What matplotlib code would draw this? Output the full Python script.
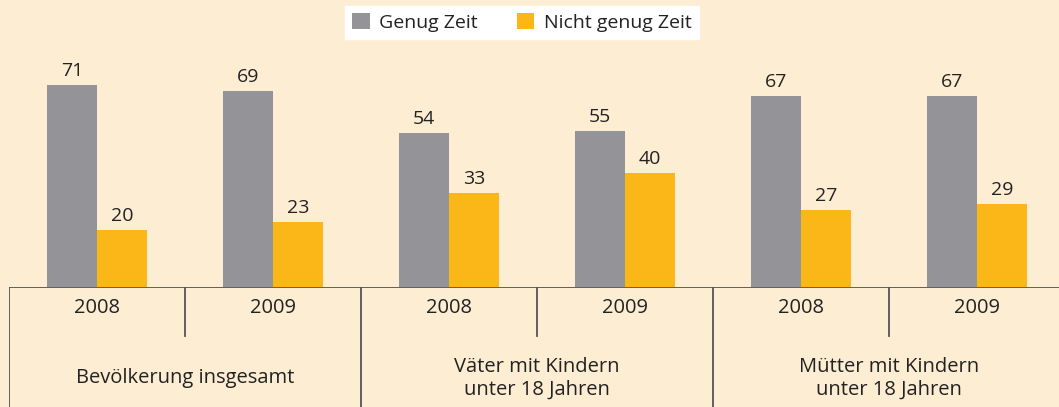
import matplotlib
matplotlib.use('Agg')
from matplotlib import pyplot as plt
import numpy as np

# data
years = ['2008', '2009', '2008', '2009', '2008', '2009']
groups = ['Bevölkerung insgesamt', 'Väter mit Kindern\nunter 18 Jahren', 'Mütter mit Kindern\nunter 18 Jahren']
genug = [71, 69, 54, 55, 67, 67]
nichtGenug = [20, 23, 33, 40, 27, 29]
seriesNames = ['Genug Zeit', 'Nicht genug Zeit']

BG = '#FDEED3'
GRAY = '#939398'
YELLOW = '#FBB718'
LINE = '#555555'
TEXT = '#222222'

plt.rcParams['font.family'] = ['Open Sans', 'DejaVu Sans']

W, H = 1059, 407
fig = plt.figure(figsize=(W / 100, H / 100), dpi=100, facecolor=BG)

cellPx = 176.0
left = 9
base = 287
xmax = (W - left) / cellPx

# bar area
ax = fig.add_axes([left / W, (H - base) / H, (W - left) / W, base / H])
ax.set_facecolor(BG)
ax.set_xlim(0, xmax)
ax.set_ylim(0, base / 2.845)
x = np.arange(len(years)) + 0.5
bw = 50 / cellPx
b1 = ax.bar(x - bw / 2, genug, bw, color=GRAY, label=seriesNames[0])
b2 = ax.bar(x + bw / 2, nichtGenug, bw, color=YELLOW, label=seriesNames[1])
for bars in (b1, b2):
    for rect in bars:
        ax.annotate(str(int(rect.get_height())),
                    (rect.get_x() + rect.get_width() / 2, rect.get_height()),
                    xytext=(0, 5), textcoords='offset pixels',
                    ha='center', va='bottom', fontsize=14, color=TEXT)
ax.axis('off')

# table area below the bars
tab = fig.add_axes([left / W, 0, (W - left) / W, (H - base) / H])
tab.set_facecolor(BG)
tab.set_xlim(0, xmax)
tab.set_ylim(H - base, 0)
tab.axis('off')
tab.axhline(0, color=LINE, lw=1.3)
tab.plot([0, 0], [0, H - base], color=LINE, lw=1.3)
for i, yr in enumerate(years):
    tab.text(i + 0.5, 21, yr, ha='center', va='center', fontsize=14.5, color=TEXT)
    if i % 2 == 1:
        tab.plot([i, i], [0, 49], color=LINE, lw=1.3)
for j, g in enumerate(groups):
    cx = 2 * j + 1
    tab.text(cx, 91, g, ha='center', va='center', fontsize=14.5, color=TEXT, linespacing=1.2)
    if j > 0:
        tab.plot([2 * j, 2 * j], [0, H - base], color=LINE, lw=1.3)

leg = fig.legend(handles=[b1, b2], labels=seriesNames, loc='center',
                 bbox_to_anchor=(522 / W, 1 - 22.5 / H), ncol=2, frameon=True,
                 fancybox=False, fontsize=14, handlelength=0.9, handleheight=0.9,
                 columnspacing=2.0, handletextpad=0.5, borderpad=0.35)
leg.get_frame().set_facecolor('white')
leg.get_frame().set_edgecolor('white')
leg.get_frame().set_alpha(1)
for t in leg.get_texts():
    t.set_color(TEXT)

fig.savefig('out.png', dpi=100, facecolor=BG)
